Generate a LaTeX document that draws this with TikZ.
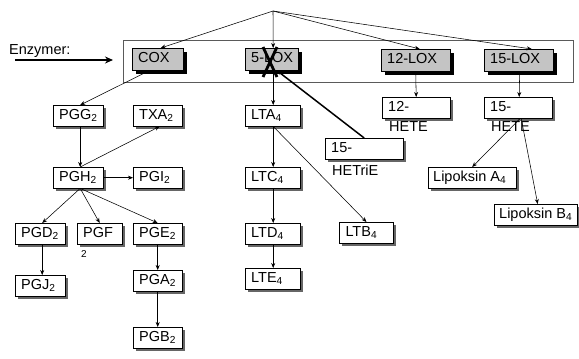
\documentclass[tikz,border=0pt]{standalone}
\usepackage{fontspec}
\setmainfont{Liberation Sans}
\usetikzlibrary{arrows.meta,calc}

\definecolor{enzgray}{RGB}{196,196,196}
\definecolor{rammegray}{RGB}{90,90,90}

\tikzset{
  boks/.style={draw, anchor=north west, inner xsep=6pt, inner ysep=0pt,
    text height=10pt, text depth=3pt,
    execute at begin node={\hbox to #1\bgroup}, execute at end node={\hss\egroup}},
  enz/.style={boks=#1, fill=enzgray, minimum height=22pt,
    preaction={fill=black, transform canvas={shift={(3.5pt,-3.5pt)}}}},
  prod/.style={boks=#1, fill=white, minimum height=21pt,
    preaction={fill=black!60, transform canvas={shift={(2.5pt,-2.5pt)}}}},
  spill/.style={anchor=west, inner sep=0pt},
  pil/.style={-{Stealth[length=5pt,width=4pt]}, line width=0.55pt},
}

\begin{document}
\begin{tikzpicture}[x=1pt, y=-1pt, font=\fontsize{14.5}{16}\selectfont]
  \useasboundingbox (0,0) rectangle (579,359);

  % enzymramme
  \draw[rammegray, line width=0.6pt] (123,40) rectangle (573,82);
  \node[anchor=base west, inner sep=0pt] (enzlbl) at (9,54) {Enzymer:};
  \coordinate (enzstart) at (15,60);
  \coordinate (enzslutt) at (113,60);
  \draw[-{Stealth[length=8pt,width=7pt]}, line width=1.6pt] (enzstart) -- (enzslutt);

  % enzymer
  \node[enz=39pt] (cox) at (132,48) {COX};
  \node[enz=41pt] (lox5) at (245,48) {5-LOX};
  \node[enz=57pt] (lox12) at (381,49) {12-LOX};
  \node[enz=57pt] (lox15) at (484,49) {15-LOX};

  % prostaglandiner
  \node[prod=38pt] (pgg) at (53,105) {PGG\textsubscript{2}};
  \node[prod=37pt] (txa) at (133,105) {TXA\textsubscript{2}};
  \node[prod=38pt] (pgh) at (53,167) {PGH\textsubscript{2}};
  \node[prod=37pt] (pgi) at (133,167) {PGI\textsubscript{2}};
  \node[prod=38pt] (pgd) at (15,223) {PGD\textsubscript{2}};
  \node[prod=33pt] (pgf) at (77,223) {PGF};
  \node[spill, font=\fontsize{10}{12}\selectfont] (pgfsub) at (81,254) {2};
  \node[prod=37pt] (pge) at (133,223) {PGE\textsubscript{2}};
  \node[prod=38pt] (pgj) at (15,275) {PGJ\textsubscript{2}};
  \node[prod=37pt] (pga) at (133,270) {PGA\textsubscript{2}};
  \node[prod=37pt] (pgb) at (133,327) {PGB\textsubscript{2}};

  % leukotriener
  \node[prod=43pt] (lta) at (245,105) {LTA\textsubscript{4}};
  \node[prod=43pt] (ltc) at (245,167) {LTC\textsubscript{4}};
  \node[prod=43pt] (ltd) at (245,223) {LTD\textsubscript{4}};
  \node[prod=43pt] (lte) at (245,268) {LTE\textsubscript{4}};
  \node[prod=42pt, line width=1pt] (ltb) at (339,222) {LTB\textsubscript{4}};
  \node[prod=66pt] (hetrie) at (325,138) {15-};
  \node[spill] (hetriet) at (332,170) {HETriE};

  % HETE og lipoksiner
  \node[prod=56pt] (hete12) at (382,97) {12-};
  \node[spill] (hete12t) at (389,127) {HETE};
  \node[prod=56pt] (hete15) at (484,97) {15-};
  \node[spill] (hete15t) at (491,127) {HETE};
  \node[prod=78pt, inner xsep=5pt] (lipa) at (428,167) {Lipoksin A\textsubscript{4}};
  \node[prod=73pt, inner xsep=5pt] (lipb) at (494,204) {Lipoksin B\textsubscript{4}};

  % fra toppen
  \coordinate (topp) at (273,11);
  \draw[pil] (topp) -- ([xshift=3pt]cox.north);
  \draw[pil] (topp) -- ([xshift=1.5pt]lox5.north);
  \draw[pil] (topp) -- ([xshift=4pt]lox12.north);
  \draw[pil] (topp) -- ([xshift=13pt]lox15.north);

  % COX-veien
  \draw[pil] ([xshift=-8pt]cox.south) -- ([xshift=2pt]pgg.north);
  \draw[pil] ([xshift=2pt]pgg.south) -- ([xshift=2pt]pgh.north);
  \draw[pil] ([xshift=2pt]pgh.north) -- ([xshift=2pt]txa.south);
  \draw[pil] (pgh.east) -- (pgi.west);
  \draw[pil] ([xshift=2pt]pgh.south) -- ([xshift=2pt]pgd.north);
  \draw[pil] ([xshift=2pt]pgh.south) -- (pgf.north);
  \draw[pil] ([xshift=2pt]pgh.south) -- (pge.north);
  \draw[pil] ([xshift=2pt]pgd.south) -- ([xshift=2pt]pgj.north);
  \draw[pil] (pge.south) -- (pga.north);
  \draw[pil] (pga.south) -- (pgb.north);

  % 5-LOX-veien
  \draw[pil] ([xshift=1.5pt]lox5.south) -- ([xshift=0.5pt]lta.north);
  \draw[pil] ([xshift=0.5pt]lta.south) -- ([xshift=0.5pt]ltc.north);
  \draw[pil] ([xshift=0.5pt]ltc.south) -- ([xshift=0.5pt]ltd.north);
  \draw[pil] ([xshift=0.5pt]ltd.south) -- ([xshift=0.5pt]lte.north);
  \draw[pil] ([xshift=0.5pt]lta.south) -- (ltb.north);
  \draw[-{Stealth[length=5pt,width=4pt]}, line width=1.5pt] (hetrie.north) -- ([xshift=5pt]lox5.south);
  % hemmet
  \draw[line width=2.8pt] ($(lox5.north west)+(18,-1)$) -- ($(lox5.north west)+(32,29)$);
  \draw[line width=2.8pt] ($(lox5.north west)+(32,-1)$) -- ($(lox5.north west)+(18,29)$);

  % 12- og 15-LOX
  \draw[pil] (lox12.south) -- (hete12.north);
  \draw[pil] ([xshift=1pt]lox15.south) -- ([xshift=1pt]hete15.north);
  \draw[pil] ([xshift=2pt]hete15.south) -- (lipa.north);
  \draw[pil] ([xshift=3pt]hete15.south) -- ([xshift=2pt]lipb.north);
\end{tikzpicture}
\end{document}
